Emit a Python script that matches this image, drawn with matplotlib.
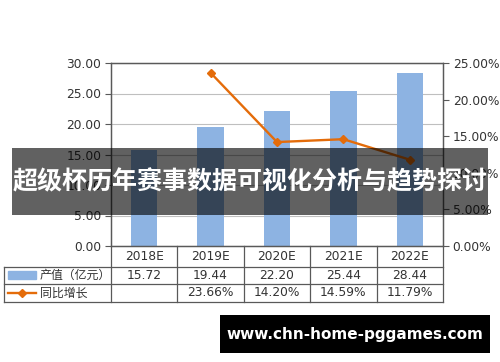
import numpy as np
import matplotlib.pyplot as plt
from matplotlib.patches import Rectangle
from matplotlib.lines import Line2D
from matplotlib.transforms import blended_transform_factory

years = ['2018E', '2019E', '2020E', '2021E', '2022E']
output = [15.72, 19.44, 22.20, 25.44, 28.44]
growth = [None, 23.66, 14.20, 14.59, 11.79]
row_labels = ['产值（亿元）', '同比增长']
title = '超级杯历年赛事数据可视化分析与趋势探讨'
site = 'www.chn-home-pggames.com'

W, H = 500, 362
blue = '#8DB3E2'
orange = '#E46C0A'
frame = '#595959'
cjk = ['Noto Sans CJK SC', 'DejaVu Sans']

def fy(py):
    return 1 - py / H

def fx(px):
    return px / W

fig = plt.figure(figsize=(5, 3.62), dpi=100)
ax = fig.add_axes([fx(111), fy(246), fx(332), 183 / H])
x = np.arange(len(years))
ax.bar(x, output, width=0.4, color=blue, zorder=2)
ax.set_xlim(-0.5, len(years) - 0.5)
ax.set_ylim(0, 30)
ax.set_yticks(np.arange(0, 31, 5))
ax.set_yticklabels(['%.2f' % v for v in np.arange(0, 31, 5)])
ax.set_xticks([])
ax.grid(axis='y', color='#BFBFBF', lw=0.8, zorder=0)
for s in ax.spines.values():
    s.set_color(frame)
    s.set_linewidth(0.9)
ax.tick_params(axis='y', length=4, width=0.8, color=frame, labelsize=8.8, labelcolor='#333333', pad=3)

ax2 = ax.twinx()
gx = [i for i, g in enumerate(growth) if g is not None]
gy = [g for g in growth if g is not None]
ax2.plot(gx, gy, color=orange, lw=1.7, marker='D', ms=4, zorder=3)
ax2.set_ylim(0, 25)
ax2.set_yticks(np.arange(0, 26, 5))
ax2.set_yticklabels(['%.2f%%' % v for v in np.arange(0, 26, 5)])
for s in ax2.spines.values():
    s.set_color(frame)
    s.set_linewidth(0.9)
ax2.tick_params(axis='y', length=4, width=0.8, color=frame, labelsize=8.8, labelcolor='#333333', pad=3)

# data table under the axes
tr = blended_transform_factory(ax.transData, fig.transFigure)
edges = np.arange(len(years) + 1) - 0.5
for e in edges:
    fig.add_artist(Line2D([e, e], [fy(246), fy(302)], transform=tr, color=frame, lw=0.9))
for yy in [267, 284, 302]:
    fig.add_artist(Line2D([fx(4), fx(443)], [fy(yy), fy(yy)], transform=fig.transFigure, color=frame, lw=0.9))
fig.add_artist(Line2D([fx(4), fx(4)], [fy(267), fy(302)], transform=fig.transFigure, color=frame, lw=0.9))

for i, yr in enumerate(years):
    fig.text(i, fy(257), yr, transform=tr, ha='center', va='center', fontsize=8.8, color='#333333')
    fig.text(i, fy(275.5), '%.2f' % output[i], transform=tr, ha='center', va='center', fontsize=8.8, color='#333333')
    if growth[i] is not None:
        fig.text(i, fy(293), '%.2f%%' % growth[i], transform=tr, ha='center', va='center', fontsize=8.8, color='#333333')

fig.add_artist(Rectangle((fx(8), fy(279)), fx(28), 8 / H, transform=fig.transFigure, color=blue))
fig.add_artist(Line2D([fx(8), fx(36)], [fy(293), fy(293)], transform=fig.transFigure, color=orange, lw=1.7))
fig.add_artist(Line2D([fx(22)], [fy(293)], transform=fig.transFigure, color=orange, marker='D', ms=4))
fig.text(fx(40), fy(275.5), row_labels[0], ha='left', va='center', fontsize=8.6, color='#333333', family=cjk)
fig.text(fx(40), fy(293), row_labels[1], ha='left', va='center', fontsize=8.6, color='#333333', family=cjk)

# overlay banner
fig.add_artist(Rectangle((fx(12), fy(215)), fx(476), 67 / H, transform=fig.transFigure, color='black', alpha=0.62, lw=0))
fig.text(0.5, fy(182), title, ha='center', va='center', fontsize=18, color='white', fontweight='bold', family=cjk)

fig.add_artist(Rectangle((fx(220), fy(353)), fx(270), 38 / H, transform=fig.transFigure, color='black', lw=0))
fig.text(fx(355), fy(334), site, ha='center', va='center', fontsize=11, color='white', fontweight='bold')

fig.savefig('out.png', dpi=100)
